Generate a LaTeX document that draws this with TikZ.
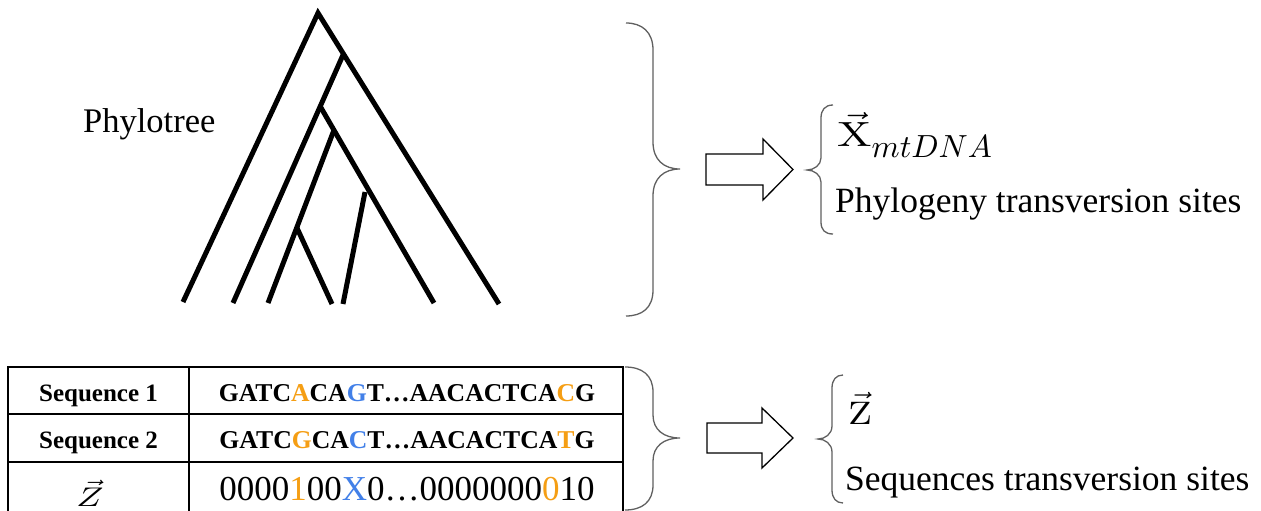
\documentclass[tikz,border=0pt]{standalone}
\usepackage{graphicx}
\usepackage{fontspec}
\setmainfont{Liberation Serif}
\definecolor{siteorange}{RGB}{245,158,20}
\definecolor{siteblue}{RGB}{66,128,232}
\definecolor{bracegray}{RGB}{96,96,96}
\newcommand\setfs[1]{\fontsize{#1}{#1}\selectfont}
\newcommand\ora[1]{\textcolor{siteorange}{#1}}
\newcommand\blu[1]{\textcolor{siteblue}{#1}}
% Computer Modern upright letter, usable inside math
\newcommand\cmup[1]{\hbox{\usefont{OT1}{cmr}{m}{n}#1}}

\begin{document}
\begin{tikzpicture}[x=1pt,y=-1pt,
  branch/.style={line width=5pt,line cap=butt,line join=miter},
  curly/.style={draw=bracegray,line width=1.3pt},
  blockarrow/.style={draw=black,line width=1.3pt,fill=white,line join=miter},
  grid/.style={line width=2pt},
  txt/.style={inner sep=0pt,anchor=base west},
  cell/.style={inner sep=0pt,anchor=base}]
\useasboundingbox (0,0) rectangle (1261,511);

% ---- phylogenetic tree ----
\coordinate (root) at (318,13);
\coordinate (n2) at (343,55);
\coordinate (n3) at (320,106);
\coordinate (n4) at (334,130);
\coordinate (n5) at (297,228);
\coordinate (l1) at (183,302);
\coordinate (l2) at (233,303);
\coordinate (l3) at (268,303);
\coordinate (l4) at (332,304);
\coordinate (l5top) at (365,192);
\coordinate (l5) at (343,304);
\coordinate (l6) at (434,303);
\coordinate (l7) at (499,304);
\draw[branch] (l1) -- (root) -- (l7);
\draw[branch] (n2) -- (l2);
\draw[branch] (n3) -- (l6);
\draw[branch] (n4) -- (l3);
\draw[branch] (n5) -- (l4);
\draw[branch] (l5top) -- (l5);

\node[txt] (phylo) at (83,132) {\setfs{34.5}Phylotree};

% ---- braces ----
\draw[curly] (626,23) .. controls (642,23) and (653,32) .. (653,50) -- (653,142)
  .. controls (653,160) and (664,169) .. (680,169)
  .. controls (664,169) and (653,178) .. (653,196) -- (653,290)
  .. controls (653,308) and (642,316) .. (626,316);
\draw[curly] (625,367) .. controls (642,367) and (653,375) .. (653,392) -- (653,415)
  .. controls (653,430) and (664,438) .. (680,438)
  .. controls (664,438) and (653,446) .. (653,461) -- (653,485)
  .. controls (653,502) and (642,510) .. (625,510);
\draw[curly] (833,105) .. controls (825,105) and (821,110) .. (821,118) -- (821,158)
  .. controls (821,165) and (814,170) .. (807,170)
  .. controls (814,170) and (821,175) .. (821,182) -- (821,222)
  .. controls (821,230) and (825,234) .. (833,234);
\draw[curly] (843,375) .. controls (836,375) and (832,380) .. (832,388) -- (832,426)
  .. controls (832,434) and (825,439) .. (818,439)
  .. controls (825,439) and (832,444) .. (832,452) -- (832,490)
  .. controls (832,498) and (836,503) .. (843,503);

% ---- block arrows ----
\draw[blockarrow] (706,154) -- (763,154) -- (763,139) -- (793,169.5) -- (763,200)
  -- (763,185) -- (706,185) -- cycle;
\draw[blockarrow] (707,423) -- (762,423) -- (762,408) -- (793,438) -- (762,468)
  -- (762,453) -- (707,453) -- cycle;

% ---- outputs ----
\node[txt] (xvec) at (837,146)
  {\scalebox{4.6}[3.5]{$\vec{\cmup{X}}$}\raisebox{-11pt}{\scalebox{3.2}{$mtDNA$}}};
\node[txt] (phylosites) at (835,212) {\setfs{35.5}Phylogeny transversion sites};
\node[txt] (zvec) at (848,424) {\scalebox{3.9}[3.25]{$\vec{\cmup{Z}}$}};
\node[txt] (seqsites) at (845,490) {\setfs{35.5}Sequences transversion sites};

% ---- sequence table ----
\draw[grid] (8,367) -- (623,367);
\draw[grid] (8,414) -- (623,414);
\draw[grid] (8,462) -- (623,462);
\draw[grid] (8,366) -- (8,511);
\draw[grid] (189,366) -- (189,511);
\draw[grid] (623,366) -- (623,511);

\node[cell] (s1) at (98.5,401) {\setfs{25}\bfseries Sequence 1};
\node[cell] (s2) at (98.5,448) {\setfs{25}\bfseries Sequence 2};
\node[cell] (zlab) at (90,506) {\scalebox{3.6}[2.7]{$\vec{Z}$}};
\node[cell] (seq1) at (407,401)
  {\setfs{25.7}\bfseries GATC\ora{A}CA\blu{G}T…AACACTCA\ora{C}G};
\node[cell] (seq2) at (407,448)
  {\setfs{25.7}\bfseries GATC\ora{G}CA\blu{C}T…AACACTCA\ora{T}G};
\node[cell] (zbits) at (407,500)
  {\setfs{35}0000\ora{1}00\blu{X}0…0000000\ora{0}10};
\end{tikzpicture}
\end{document}
